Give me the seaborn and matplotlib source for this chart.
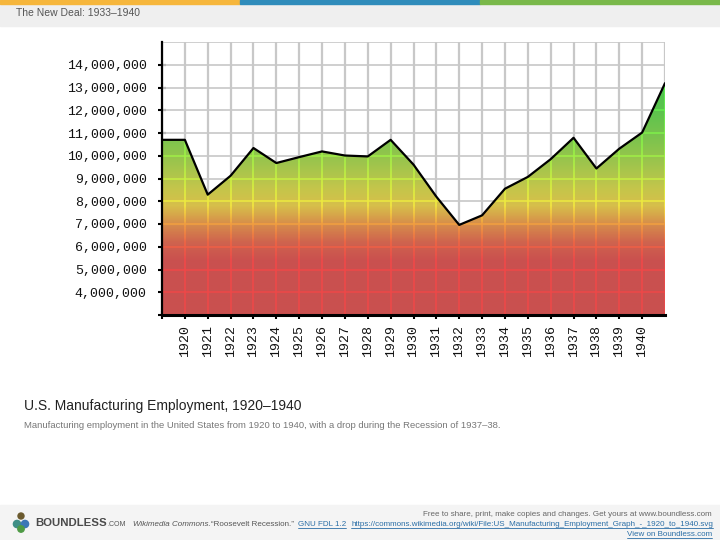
import numpy as np
import matplotlib
matplotlib.use("Agg")
import matplotlib.pyplot as plt
import seaborn as sns
from matplotlib.colors import LinearSegmentedColormap, Normalize
from matplotlib.collections import LineCollection
from matplotlib.patches import Rectangle, Circle
from matplotlib.lines import Line2D
from matplotlib.transforms import IdentityTransform

# data: US manufacturing employment
years = list(range(1919, 1942))
employment = [10700000, 10700000, 8290000, 9120000, 10340000, 9680000,
              9940000, 10190000, 10010000, 9970000, 10700000, 9610000,
              8200000, 6960000, 7380000, 8550000, 9070000, 9850000,
              10790000, 9440000, 10310000, 11020000, 13190000]
label_years = list(range(1920, 1941))
y_ticks = list(range(3000000, 15000000, 1000000))
y_grid = list(range(3000000, 16000000, 1000000))

slide_title = "The New Deal: 1933\u20131940"
caption = "U.S. Manufacturing Employment, 1920\u20131940"
subcaption = ("Manufacturing employment in the United States from 1920 to 1940, "
              "with a drop during the Recession of 1937\u201338.")

Y_MIN, Y_MAX = 3000000, 15000000

# gradient stops (value in millions, colour)
fill_stops = [(3, "#c9504f"), (5.4, "#ca514f"), (6.2, "#cf644e"), (7.0, "#d68d4b"),
              (7.8, "#d7bf4a"), (8.6, "#c3c64b"), (9.5, "#a4c54c"), (10.5, "#84c44d"),
              (12, "#5cc34e"), (13.5, "#47c44c"), (15, "#42c44c")]
bright_stops = [(3, "#ec4848"), (5.4, "#f04848"), (6.2, "#f06644"), (7.0, "#f2a040"),
                (7.8, "#f4e840"), (8.6, "#d8f040"), (9.5, "#b4f044"), (10.5, "#8cf048"),
                (12, "#64f04e"), (15, "#52f050")]


def make_cmap(name, stops):
    return LinearSegmentedColormap.from_list(
        name, [((v - 3) / 12, c) for v, c in stops])


fill_cmap = make_cmap("fill", fill_stops)
bright_cmap = make_cmap("bright", bright_stops)
norm = Normalize(Y_MIN, Y_MAX)

sns.set_theme(style="white")
plt.rcParams["font.family"] = ["Liberation Sans", "DejaVu Sans"]

W, H = 720, 540
fig = plt.figure(figsize=(7.2, 5.4), dpi=100, facecolor="white")


def fx(px):
    return px / W


def fy(py):
    return 1 - py / H


# slide chrome
fig.patches.append(Rectangle((0, fy(26)), 1, 26 / H, transform=fig.transFigure,
                             color="#efefef", zorder=0))
for x0, x1, c in [(0, 240, "#f6b63c"), (240, 480, "#2f8cbb"), (480, 720, "#79b84a")]:
    fig.patches.append(Rectangle((fx(x0), fy(3.5)), fx(x1) - fx(x0), 3.5 / H,
                                 transform=fig.transFigure, color=c, zorder=1))
fig.patches.append(Rectangle((0, 0), 1, 35 / H, transform=fig.transFigure,
                             color="#f4f4f4", zorder=0))

fig.text(fx(16), fy(13), slide_title, fontsize=7.5, color="#555555", va="center")
fig.text(fx(24), fy(406), caption, fontsize=10, color="#222222", va="center")
fig.text(fx(24), fy(425), subcaption, fontsize=6.8, color="#777777", va="center")

# chart
ax = fig.add_axes([fx(162), fy(315), fx(665) - fx(162), (315 - 42) / H])
ax.set_facecolor("white")

for v in y_grid:
    ax.axhline(v, color="#cbcbcb", lw=1.3, zorder=1)
for yr in years:
    ax.axvline(yr, color="#c8c8c8", lw=1.6, zorder=1)

poly = ax.fill_between(years, employment, Y_MIN, facecolor="none", edgecolor="none")
clip = poly.get_paths()[0]

grad = np.linspace(Y_MIN, Y_MAX, 600).reshape(-1, 1)
im = ax.imshow(grad, extent=[years[0], years[-1], Y_MIN, Y_MAX], origin="lower",
               aspect="auto", cmap=fill_cmap, norm=norm, zorder=2)
im.set_clip_path(clip, ax.transData)

# brighter grid showing through the fill
for v in y_grid:
    ln = ax.axhline(v, color=bright_cmap(norm(v)), lw=1.1, zorder=3)
    ln.set_clip_path(clip, ax.transData)
ys = np.linspace(Y_MIN, Y_MAX, 241)
segs, cols = [], []
for yr in years:
    for a, b in zip(ys[:-1], ys[1:]):
        segs.append([(yr, a), (yr, b)])
        cols.append(bright_cmap(norm((a + b) / 2)))
lc = LineCollection(segs, colors=cols, linewidths=1.2, zorder=3)
lc.set_clip_path(clip, ax.transData)
ax.add_collection(lc)

sns.lineplot(x=years, y=employment, color="black", lw=1.6, ax=ax, zorder=4)

ax.set_xlim(years[0], years[-1])
ax.set_ylim(Y_MIN, Y_MAX)
ax.set(xlabel="", ylabel="")

mono = "Liberation Mono"
ax.set_xticks([years[0]] + label_years)
ax.set_xticklabels([""] + [str(y) for y in label_years], rotation=90,
                   fontfamily=mono, fontsize=9.5, color="#111111")
ax.set_yticks(y_ticks)
ax.set_yticklabels([""] + [f"{v:,}" for v in y_ticks[1:]],
                   fontfamily=mono, fontsize=9.5, color="#111111")
ax.tick_params(axis="both", direction="inout", length=6, width=1.5,
               color="black", left=True, bottom=True)
ax.tick_params(axis="y", pad=8)
ax.tick_params(axis="x", pad=4)

for s in ["top", "right"]:
    ax.spines[s].set_visible(False)
ax.spines["left"].set_color("black")
ax.spines["left"].set_linewidth(1.6)
ax.spines["bottom"].set_color("black")
ax.spines["bottom"].set_linewidth(2.2)
for s in ax.spines.values():
    s.set_zorder(5)

# footer
for (cx, cy, r, c) in [(21, 516, 3, "#6b5a2e"), (17, 524, 3.6, "#3f8f86"),
                       (25, 524, 3.6, "#3b77b6"), (21, 529, 3.2, "#4e9a45")]:
    fig.add_artist(Circle((cx, H - cy), r, transform=IdentityTransform(),
                          color=c, zorder=3))
fig.text(fx(35), fy(523), "BOUNDLESS", fontsize=8.2, fontweight="bold",
         color="#4a4a4a", va="center")
fig.text(fx(107), fy(524), ".COM", fontsize=5, color="#555555", va="center")

fs = 5.8
fig.text(fx(712), fy(515), "Free to share, print, make copies and changes. "
         "Get yours at www.boundless.com", fontsize=fs, color="#666666",
         ha="right", va="center")
fig.text(fx(133), fy(525), "Wikimedia Commons.", fontsize=fs, style="italic",
         color="#555555", va="center")
fig.text(fx(294), fy(525), "\u201cRoosevelt Recession.\u201d", fontsize=fs,
         color="#555555", va="center", ha="right")
links = [
    fig.text(fx(298), fy(525), "GNU FDL 1.2", fontsize=fs, color="#2a6ea6", va="center"),
    fig.text(fx(351), fy(525), "https://commons.wikimedia.org/wiki/File:US_Manufacturing"
             "_Employment_Graph_-_1920_to_1940.svg", fontsize=fs, color="#2a6ea6",
             va="center"),
    fig.text(fx(712), fy(535), "View on Boundless.com", fontsize=fs, color="#2a6ea6",
             ha="right", va="center"),
]

fig.canvas.draw()
renderer = fig.canvas.get_renderer()
for t in links:
    bb = t.get_window_extent(renderer)
    fig.add_artist(Line2D([bb.x0, bb.x1], [bb.y0 + 0.5, bb.y0 + 0.5],
                          transform=IdentityTransform(), color="#2a6ea6", lw=0.6))

fig.savefig("out.png", dpi=100)
